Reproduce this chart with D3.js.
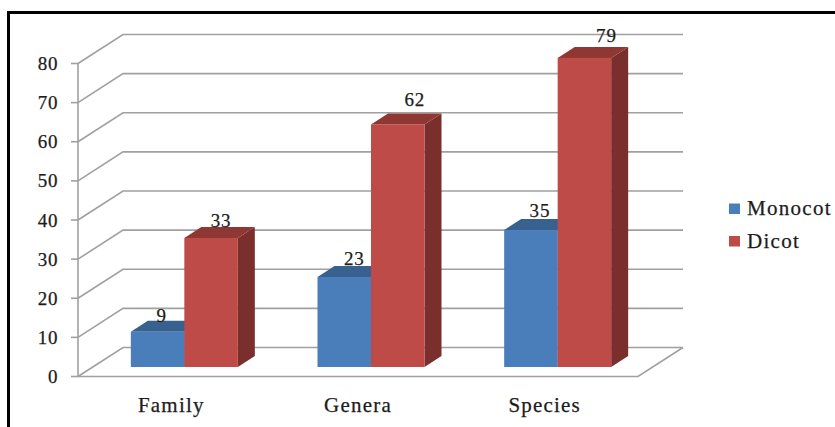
<!DOCTYPE html>
<html>
<head>
<meta charset="utf-8">
<script src="https://cdn.jsdelivr.net/npm/d3@7"></script>
<style>
  html, body { margin: 0; padding: 0; background: #fff; }
  svg { display: block; }
  text { font-family: "Liberation Serif", serif; fill: #1c1c1c; stroke: #1c1c1c; stroke-width: 0.25; }
</style>
</head>
<body>
<svg id="chart" width="835" height="427"></svg>
<script>
const categories = ["Family", "Genera", "Species"];
const seriesNames = ["Monocot", "Dicot"];
const monocot = [9, 23, 35];
const dicot = [33, 62, 79];
const yTicks = [0, 10, 20, 30, 40, 50, 60, 70, 80];

const colors = {
  Monocot: { front: "#4a7ebb", top: "#38618f", side: "#2f5480" },
  Dicot: { front: "#be4b48", top: "#8f3733", side: "#7a2f2c" }
};

const svg = d3.select("#chart");

// Outer frame: open at the right and bottom edges of the page
svg.append("path")
  .attr("d", "M8.5,427V12.5H835")
  .attr("fill", "none")
  .attr("stroke", "#000")
  .attr("stroke-width", 3);

// 3D plot geometry
const plot = { left: 78, right: 638, top: 63.5, bottom: 376.5, wallDx: 45, wallDy: 29 };
const barShift = { x: 13, y: 9.5 };      // bars stand partway into the floor
const barDepth = { x: 17, y: 11 };
const barWidth = 53.5;

const y = d3.scaleLinear().domain([0, 80]).range([plot.bottom, plot.top]);
const x = d3.scaleBand().domain(categories).range([plot.left, plot.right]);

const grid = svg.append("g")
  .attr("fill", "none")
  .attr("stroke", "#a0a0a0")
  .attr("stroke-width", 1.6);

// Gridlines run up the side wall, then along the back wall
grid.selectAll("path.wall").data(yTicks).join("path")
  .attr("class", "wall")
  .attr("d", d => {
    const yy = y(d);
    return `M${plot.left},${yy}L${plot.left + plot.wallDx},${yy - plot.wallDy}H${plot.right + plot.wallDx}`;
  });

// Floor front and right edges, vertical axis and tick marks
grid.append("path")
  .attr("d", `M${plot.left},${y(0)}H${plot.right}L${plot.right + plot.wallDx},${y(0) - plot.wallDy}`);
grid.append("path")
  .attr("d", `M${plot.left},${y(80)}V${y(0)}`);
grid.selectAll("path.tick").data(yTicks).join("path")
  .attr("class", "tick")
  .attr("d", d => `M${plot.left - 7},${y(d)}H${plot.left}`);

svg.append("g").selectAll("text").data(yTicks).join("text")
  .attr("x", 58)
  .attr("y", d => y(d) + 6.5)
  .attr("text-anchor", "end")
  .attr("font-size", 19)
  .attr("letter-spacing", 0.6)
  .text(d => d);

// Hand placement of the value labels relative to each bar's top centre
const monocotLabelNudge = [[4, -10], [10, -12], [9, -13]];
const dicotLabelNudge = [[10, -11], [17, -18], [22, -16]];

// Bars: one group per category, Monocot first so Dicot overlaps its side face
const rows = categories.flatMap((c, i) => [
  { cat: c, name: "Monocot", value: monocot[i], slot: 0, nudge: monocotLabelNudge[i] },
  { cat: c, name: "Dicot", value: dicot[i], slot: 1, nudge: dicotLabelNudge[i] }
]);

const bar = svg.append("g").selectAll("g").data(rows).join("g");

const geom = d => {
  const x0 = x(d.cat) + x.bandwidth() / 2 - barWidth + barShift.x + d.slot * barWidth;
  const base = y(0) - barShift.y;
  const top = base - (y(0) - y(d.value));
  return { x0, x1: x0 + barWidth, base, top };
};

bar.append("path")
  .attr("fill", d => colors[d.name].side)
  .attr("d", d => {
    const g = geom(d);
    return `M${g.x1},${g.top}L${g.x1 + barDepth.x},${g.top - barDepth.y}V${g.base - barDepth.y}L${g.x1},${g.base}Z`;
  });
bar.append("path")
  .attr("fill", d => colors[d.name].top)
  .attr("d", d => {
    const g = geom(d);
    return `M${g.x0},${g.top}L${g.x0 + barDepth.x},${g.top - barDepth.y}H${g.x1 + barDepth.x}L${g.x1},${g.top}Z`;
  });
bar.append("rect")
  .attr("fill", d => colors[d.name].front)
  .attr("x", d => geom(d).x0)
  .attr("y", d => geom(d).top)
  .attr("width", barWidth)
  .attr("height", d => geom(d).base - geom(d).top);

// Value labels above each bar
svg.append("g").selectAll("text").data(rows).join("text")
  .attr("x", d => geom(d).x0 + barWidth / 2 + d.nudge[0])
  .attr("y", d => geom(d).top + d.nudge[1])
  .attr("text-anchor", "middle")
  .attr("font-size", 19)
  .attr("letter-spacing", 0.8)
  .text(d => d.value);

// Category labels
svg.append("g").selectAll("text").data(categories).join("text")
  .attr("x", d => x(d) + x.bandwidth() / 2)
  .attr("y", 412)
  .attr("text-anchor", "middle")
  .attr("font-size", 21)
  .attr("letter-spacing", 1.2)
  .text(d => d);

// Legend
const legend = svg.append("g").selectAll("g").data(seriesNames).join("g")
  .attr("transform", (d, i) => `translate(729,${203.5 + i * 32.5})`);
legend.append("rect")
  .attr("width", 11)
  .attr("height", 10.5)
  .attr("fill", d => colors[d].front);
legend.append("text")
  .attr("x", 18)
  .attr("y", 11.5)
  .attr("font-size", 21)
  .attr("letter-spacing", 1.3)
  .text(d => d);
</script>
</body>
</html>
